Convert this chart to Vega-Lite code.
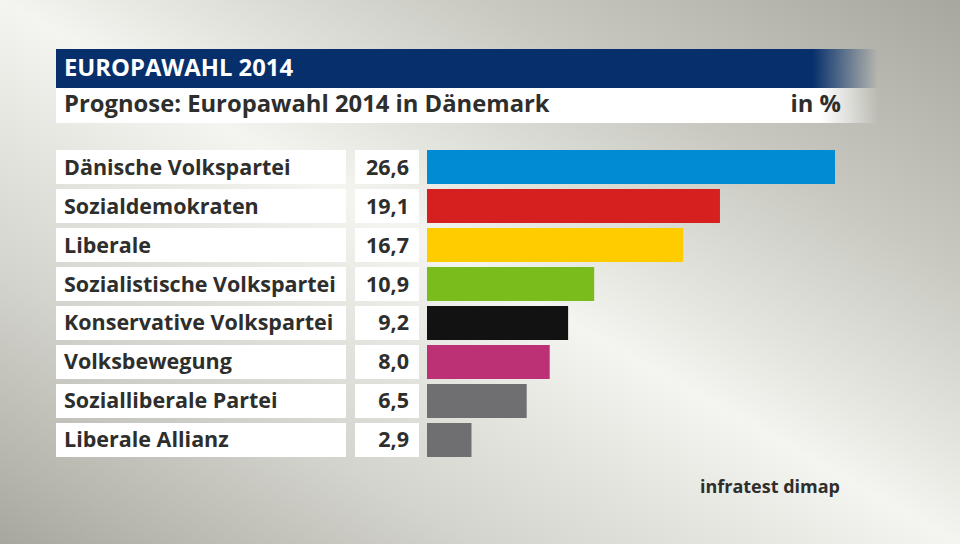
{
  "$schema": "https://vega.github.io/schema/vega-lite/v6.json",
  "width": 960,
  "height": 544,
  "autosize": {"type": "fit", "contains": "padding"},
  "padding": 0,
  "background": "#d8d8d2",
  "config": {"view": {"stroke": null}, "font": "Open Sans"},
  "datasets": {
    "parties": [
      {"party": "Dänische Volkspartei", "value": 26.6, "label": "26,6"},
      {"party": "Sozialdemokraten", "value": 19.1, "label": "19,1"},
      {"party": "Liberale", "value": 16.7, "label": "16,7"},
      {"party": "Sozialistische Volkspartei", "value": 10.9, "label": "10,9"},
      {"party": "Konservative Volkspartei", "value": 9.2, "label": "9,2"},
      {"party": "Volksbewegung", "value": 8.0, "label": "8,0"},
      {"party": "Sozialliberale Partei", "value": 6.5, "label": "6,5"},
      {"party": "Liberale Allianz", "value": 2.9, "label": "2,9"}
    ],
    "header": [
      {"title": "EUROPAWAHL 2014", "subtitle": "Prognose: Europawahl 2014 in Dänemark", "unit": "in %", "source": "infratest dimap"}
    ]
  },
  "layer": [
    {
      "data": {"name": "header"},
      "mark": {"type": "rect", "fill": {"gradient": "linear", "x1": 1, "y1": 0, "x2": 0, "y2": 1, "stops": [{"offset": 0, "color": "#a8a79f"}, {"offset": 0.25, "color": "#c9c9c2"}, {"offset": 0.5, "color": "#f4f4f0"}, {"offset": 0.75, "color": "#d4d4ce"}, {"offset": 1, "color": "#a8a79f"}]}},
      "encoding": {"x": {"value": 0}, "x2": {"value": 960}, "y": {"value": 0}, "y2": {"value": 544}}
    },
    {
      "data": {"name": "header"},
      "mark": {"type": "rect", "fill": {"gradient": "linear", "x1": 0, "y1": 0, "x2": 1, "y2": 0, "stops": [{"offset": 0, "color": "#062f6b"}, {"offset": 0.92, "color": "#062f6b"}, {"offset": 1, "color": "rgba(6,47,107,0)"}]}},
      "encoding": {"x": {"value": 56}, "x2": {"value": 878}, "y": {"value": 49}, "y2": {"value": 88}}
    },
    {
      "data": {"name": "header"},
      "mark": {"type": "rect", "fill": {"gradient": "linear", "x1": 0, "y1": 0, "x2": 1, "y2": 0, "stops": [{"offset": 0, "color": "#ffffff"}, {"offset": 0.93, "color": "#ffffff"}, {"offset": 1, "color": "rgba(255,255,255,0)"}]}},
      "encoding": {"x": {"value": 56}, "x2": {"value": 878}, "y": {"value": 88}, "y2": {"value": 123}}
    },
    {
      "data": {"name": "header"},
      "mark": {"type": "text", "align": "left", "baseline": "middle", "fontSize": 23.8, "fontWeight": "bold", "color": "#ffffff"},
      "encoding": {"x": {"value": 64}, "y": {"value": 69}, "text": {"field": "title"}}
    },
    {
      "data": {"name": "header"},
      "mark": {"type": "text", "align": "left", "baseline": "middle", "fontSize": 23.8, "fontWeight": "bold", "color": "#2e2e2c"},
      "encoding": {"x": {"value": 64}, "y": {"value": 105}, "text": {"field": "subtitle"}}
    },
    {
      "data": {"name": "header"},
      "mark": {"type": "text", "align": "right", "baseline": "middle", "fontSize": 23.8, "fontWeight": "bold", "color": "#2e2e2c"},
      "encoding": {"x": {"value": 841}, "y": {"value": 105}, "text": {"field": "unit"}}
    },
    {
      "data": {"name": "header"},
      "mark": {"type": "text", "align": "right", "baseline": "middle", "fontSize": 18, "fontWeight": "bold", "color": "#2e2e2c"},
      "encoding": {"x": {"value": 840}, "y": {"value": 488}, "text": {"field": "source"}}
    },
    {
      "data": {"name": "parties"},
      "mark": {"type": "rect", "fill": "#ffffff"},
      "encoding": {
        "x": {"value": 56}, "x2": {"value": 346},
        "y": {"field": "party", "type": "nominal", "sort": null, "axis": null, "scale": {"range": [150, 457], "paddingInner": 0.128, "paddingOuter": 0}}
      }
    },
    {
      "data": {"name": "parties"},
      "mark": {"type": "rect", "fill": "#ffffff"},
      "encoding": {
        "x": {"value": 355}, "x2": {"value": 419},
        "y": {"field": "party", "type": "nominal", "sort": null, "axis": null}
      }
    },
    {
      "data": {"name": "parties"},
      "mark": {"type": "bar"},
      "encoding": {
        "x": {"field": "value", "type": "quantitative", "axis": null, "scale": {"domain": [0, 26.6], "range": [427, 835], "zero": true, "nice": false}},
        "y": {"field": "party", "type": "nominal", "sort": null, "axis": null},
        "color": {"field": "party", "type": "nominal", "legend": null, "scale": {"domain": ["Dänische Volkspartei", "Sozialdemokraten", "Liberale", "Sozialistische Volkspartei", "Konservative Volkspartei", "Volksbewegung", "Sozialliberale Partei", "Liberale Allianz"], "range": ["#008bd2", "#d62020", "#ffcc00", "#79bc1b", "#121212", "#bc3176", "#6f6f71", "#6f6f71"]}}
      }
    },
    {
      "data": {"name": "parties"},
      "mark": {"type": "text", "align": "left", "baseline": "middle", "dy": 1.5, "fontSize": 21.5, "fontWeight": "bold", "color": "#2e2e2c"},
      "encoding": {
        "x": {"value": 64},
        "y": {"field": "party", "type": "nominal", "sort": null, "axis": null},
        "text": {"field": "party"}
      }
    },
    {
      "data": {"name": "parties"},
      "mark": {"type": "text", "align": "right", "baseline": "middle", "dy": 1.5, "fontSize": 21.5, "fontWeight": "bold", "color": "#2e2e2c"},
      "encoding": {
        "x": {"value": 409},
        "y": {"field": "party", "type": "nominal", "sort": null, "axis": null},
        "text": {"field": "label"}
      }
    }
  ]
}
